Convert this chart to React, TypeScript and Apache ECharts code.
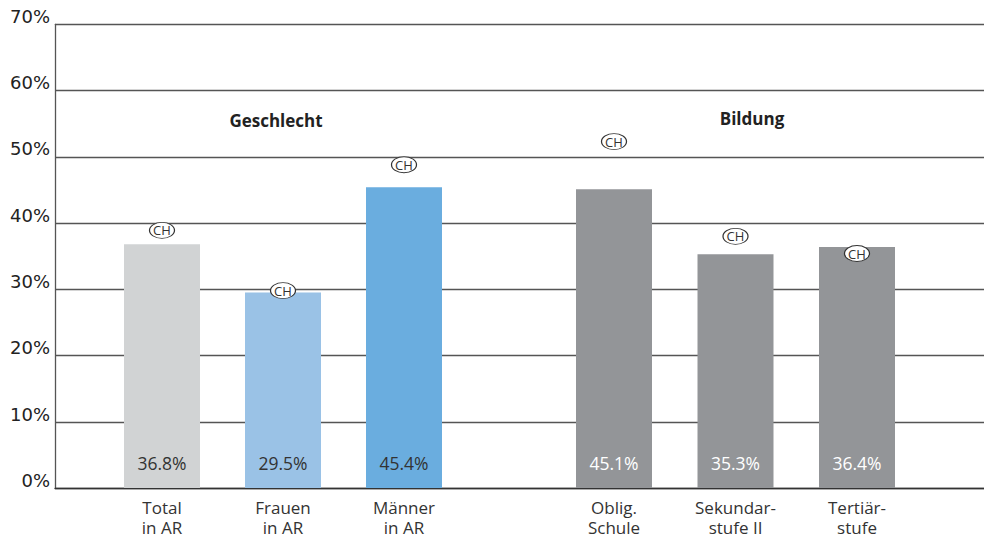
import React, { useEffect, useRef } from "react";
import * as echarts from "echarts";

const genderCategories = ["Total\nin AR", "Frauen\nin AR", "Männer\nin AR"];
const genderValues = [36.8, 29.5, 45.4];
const genderCH = [38.9, 29.8, 48.8];
const genderColors = ["#d1d3d4", "#9ac2e6", "#6aaddf"];

const eduCategories = ["Oblig.\nSchule", "Sekundar-\nstufe II", "Tertiär-\nstufe"];
const eduValues = [45.1, 35.3, 36.4];
const eduCH = [52.3, 38.0, 35.4];
const eduColor = "#939598";

const groupTitles = ["Geschlecht", "Bildung"];
const yTicks = [0, 10, 20, 30, 40, 50, 60, 70];
const chLabel = "CH";

const FONT = "'Open Sans', sans-serif";
const YFONT = "'DejaVu Sans', sans-serif";
const ELLIPSE = "path://M0,8 A12.5,8 0 1,1 25,8 A12.5,8 0 1,1 0,8 Z";

export default function App() {
  const ref = useRef<HTMLDivElement>(null);
  useEffect(() => {
    document.body.style.margin = "0";
    if (!ref.current) return;
    const chart = echarts.init(ref.current, null, { renderer: "svg" });
    const top = 24.3;
    const bottom = 48.7;
    const hiddenY = (gi: number) => ({
      type: "value" as const,
      gridIndex: gi,
      min: yTicks[0],
      max: yTicks[yTicks.length - 1],
      interval: 10,
      show: false,
    });
    const catX = (gi: number, cats: string[]) => ({
      type: "category" as const,
      gridIndex: gi,
      data: cats,
      axisLine: { show: false },
      axisTick: { show: false },
      axisLabel: {
        fontFamily: FONT,
        fontSize: 17,
        lineHeight: 20,
        color: "#333",
        margin: 9,
        interval: 0,
      },
    });
    const barSeries = (gi: number, vals: number[], colors: string[], labelColor: string) => ({
      type: "bar" as const,
      xAxisIndex: gi,
      yAxisIndex: gi,
      barWidth: 76,
      data: vals.map((v, i) => ({ value: v, itemStyle: { color: colors[i % colors.length] } })),
      label: {
        show: true,
        position: "insideBottom" as const,
        distance: 16,
        formatter: (p: any) => p.value.toFixed(1) + "%",
        fontFamily: FONT,
        fontSize: 17.5,
        fontWeight: 500,
        color: labelColor,
      },
      z: 2,
    });
    const chSeries = (gi: number, vals: number[]) => ({
      type: "scatter" as const,
      xAxisIndex: gi,
      yAxisIndex: gi,
      symbol: ELLIPSE,
      symbolSize: [25, 16],
      data: vals,
      itemStyle: { color: "#fff", borderColor: "#333", borderWidth: 1, opacity: 1 },
      label: {
        show: true,
        position: "inside" as const,
        formatter: chLabel,
        fontFamily: FONT,
        fontSize: 13,
        color: "#333",
      },
      z: 5,
    });
    chart.setOption({
      animation: false,
      backgroundColor: "#fff",
      grid: [
        { left: 55, right: 0, top, bottom },
        { left: 101.5, width: 363, top, bottom },
        { left: 553.25, width: 364.5, top, bottom },
      ],
      xAxis: [
        {
          type: "value",
          gridIndex: 0,
          min: 0,
          max: 1,
          axisLine: { show: true, onZero: false, lineStyle: { color: "#333", width: 1.3 } },
          axisTick: { show: false },
          axisLabel: { show: false },
          splitLine: { show: false },
        },
        catX(1, genderCategories),
        catX(2, eduCategories),
      ],
      yAxis: [
        {
          type: "value",
          gridIndex: 0,
          min: yTicks[0],
          max: yTicks[yTicks.length - 1],
          interval: 10,
          axisLine: { show: true, lineStyle: { color: "#555", width: 1.3 } },
          axisTick: { show: false },
          splitLine: { show: true, lineStyle: { color: "#555", width: 1.3 } },
          axisLabel: {
            formatter: "{value}%",
            fontFamily: YFONT,
            fontSize: 18,
            color: "#222",
            margin: 5,
            verticalAlign: "bottom",
            lineHeight: 16,
          },
        },
        hiddenY(1),
        hiddenY(2),
      ],
      graphic: [
        {
          type: "text",
          x: 276,
          y: 120,
          style: {
            text: groupTitles[0],
            font: `bold 17px ${FONT}`,
            fill: "#222",
            textAlign: "center",
            textVerticalAlign: "middle",
          },
        },
        {
          type: "text",
          x: 752,
          y: 118,
          style: {
            text: groupTitles[1],
            font: `bold 17px ${FONT}`,
            fill: "#222",
            textAlign: "center",
            textVerticalAlign: "middle",
          },
        },
      ],
      series: [
        barSeries(1, genderValues, genderColors, "#333"),
        chSeries(1, genderCH),
        barSeries(2, eduValues, [eduColor], "#fff"),
        chSeries(2, eduCH),
      ],
    });
    return () => chart.dispose();
  }, []);
  return (
    <div
      ref={ref}
      style={{ position: "absolute", left: 0, top: 0, width: 984, height: 537 }}
    />
  );
}
